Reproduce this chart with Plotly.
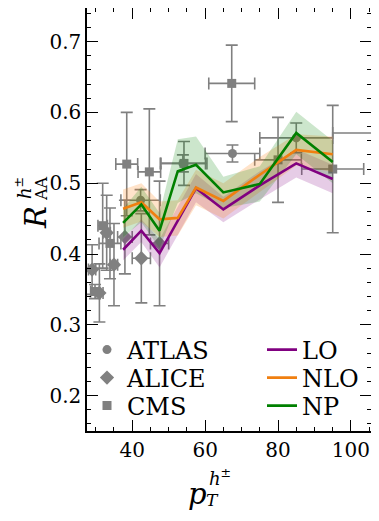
import plotly.graph_objects as go

# ---------------- data ----------------
theory_pt = [37.5, 42.5, 47.5, 52.5, 57.5, 65, 75, 85, 95]
lo = [0.406, 0.433, 0.401, 0.447, 0.493, 0.463, 0.497, 0.528, 0.506]
lo_err = [0.015, 0.016, 0.020, 0.020, 0.020, 0.018, 0.020, 0.020, 0.020]
nlo = [0.464, 0.473, 0.449, 0.451, 0.494, 0.475, 0.512, 0.547, 0.541]
nlo_err = [0.027, 0.027, 0.025, 0.025, 0.025, 0.025, 0.025, 0.022, 0.025]
np_r = [0.444, 0.470, 0.433, 0.517, 0.526, 0.487, 0.499, 0.571, 0.530]
np_err = [0.020, 0.025, 0.025, 0.045, 0.040, 0.022, 0.025, 0.030, 0.030]

atlas_pt = [42.3, 53.9, 67.5, 85.0, 107.5]
atlas_r = [0.476, 0.528, 0.542, 0.564, 0.571]
atlas_dx = [5.4, 6.2, 7.5, 10.0, 12.5]
atlas_dy = [0.015, 0.012, 0.012, 0.021, 0.020]

alice_pt = [29, 31, 33, 35, 38, 42.5, 47.5]
alice_r = [0.378, 0.345, 0.430, 0.385, 0.424, 0.394, 0.415]
alice_dx = [1, 1, 1, 1, 2, 2.5, 2.5]
alice_dy = [0.035, 0.041, 0.053, 0.058, 0.052, 0.063, 0.088]

cms_pt = [29.8, 31.9, 33.9, 38.5, 44.7, 54.2, 67.3, 80.0, 95.0]
cms_r = [0.347, 0.440, 0.415, 0.527, 0.516, 0.528, 0.641, 0.533, 0.520]
cms_dx = [1.2, 1.3, 3.0, 3.0, 3.1, 6.3, 6.3, 6.4, 8.5]
cms_dy = [0.010, 0.060, 0.050, 0.073, 0.089, 0.031, 0.054, 0.060, 0.090]

GRAY = "#808080"
FONT = "DejaVu Serif"

# page offset from the default body margin of the html page
OFF = 8
W, H = 379 - OFF, 521 - OFF
L, R, T, B = 79, 8, 0, 90
pw, ph = W - L - R, H - T - B


def px(xp):
    return (xp - OFF - L) / pw


def py(yp):
    return (H - B - (yp - OFF)) / ph


fig = go.Figure()


def data_trace(name, x, y, dx, dy, symbol, legend):
    return go.Scatter(
        x=x, y=y, mode="markers", name=name, legend=legend,
        marker=dict(symbol=symbol, color=GRAY, size=9 if symbol != "diamond" else 11),
        error_x=dict(type="data", array=dx, color=GRAY, thickness=1.6, width=6),
        error_y=dict(type="data", array=dy, color=GRAY, thickness=1.6, width=6),
    )


fig.add_trace(data_trace("ATLAS", atlas_pt, atlas_r, atlas_dx, atlas_dy, "circle", "legend"))
fig.add_trace(data_trace("ALICE", alice_pt, alice_r, alice_dx, alice_dy, "diamond", "legend2"))
fig.add_trace(data_trace("CMS", cms_pt, cms_r, cms_dx, cms_dy, "square", "legend3"))

theories = [
    ("LO", lo, lo_err, "#800080", "rgba(128,0,128,0.2)", "legend4"),
    ("NLO", nlo, nlo_err, "#f07f10", "rgba(255,127,14,0.22)", "legend5"),
    ("NP", np_r, np_err, "#008000", "rgba(0,128,0,0.2)", "legend6"),
]

for name, y, e, lc, fc, lg in theories:
    upper = [a + b for a, b in zip(y, e)]
    lower = [a - b for a, b in zip(y, e)]
    fig.add_trace(go.Scatter(
        x=theory_pt + theory_pt[::-1], y=upper + lower[::-1],
        fill="toself", fillcolor=fc, line=dict(width=0),
        mode="lines", hoverinfo="skip", showlegend=False))

for name, y, e, lc, fc, lg in theories:
    fig.add_trace(go.Scatter(
        x=theory_pt, y=y, mode="lines", name=name, legend=lg,
        line=dict(color=lc, width=2.6)))

axis_common = dict(
    showline=True, linecolor="black", linewidth=1.5, mirror="allticks",
    ticks="inside", ticklen=11, tickwidth=1.3, tickcolor="black",
    showgrid=False, zeroline=False,
    tickfont=dict(family=FONT, size=20, color="black"),
)

fig.update_xaxes(
    range=[27.6, 105.5], tickvals=[40, 60, 80, 100],
    ticktext=["40", "60", "80", "100"],
    minor=dict(ticks="inside", ticklen=4, tickwidth=1.1, tickcolor="black", dtick=5, tick0=0),
    **axis_common)
fig.update_yaxes(
    range=[0.15, 0.7475], tickvals=[0.2, 0.3, 0.4, 0.5, 0.6, 0.7],
    ticktext=["0.2", "0.3", "0.4", "0.5", "0.6", "0.7"],
    minor=dict(ticks="inside", ticklen=4, tickwidth=1.1, tickcolor="black", dtick=0.02, tick0=0),
    **axis_common)

annotations = [
    # y-axis title
    dict(text="<i>R</i>", x=px(36), y=py(218), font=dict(size=29)),
    dict(text="<i>h</i><sup>±</sup>", x=px(23), y=py(188), font=dict(size=18)),
    dict(text="AA", x=px(42), y=py(189), font=dict(size=16)),
    # x-axis title
    dict(text="<i>p</i>", x=px(197), y=py(494), font=dict(size=29), textangle=0),
    dict(text="<i>T</i>", x=px(212), y=py(500), font=dict(size=17), textangle=0),
    dict(text="<i>h</i><sup>±</sup>", x=px(220), y=py(477), font=dict(size=18), textangle=0),
]
for a in annotations:
    a.setdefault("textangle", -90)
    a["font"].update(family=FONT, color="black")
    a.update(xref="paper", yref="paper", showarrow=False, xanchor="center", yanchor="middle")

LEG_FONT = dict(family=FONT, size=24, color="black")
rows = [350, 378, 406]
legends = {}
for i, yrow in enumerate(rows):
    legends["legend" if i == 0 else f"legend{i + 1}"] = dict(
        x=px(87), y=py(yrow), xanchor="left", yanchor="middle",
        font=LEG_FONT, bgcolor="rgba(0,0,0,0)", itemwidth=30)
    legends[f"legend{i + 4}"] = dict(
        x=px(262), y=py(yrow), xanchor="left", yanchor="middle",
        font=LEG_FONT, bgcolor="rgba(0,0,0,0)", itemwidth=30)

fig.update_layout(
    width=W, height=H,
    margin=dict(l=L, r=R, t=T, b=B, autoexpand=False),
    paper_bgcolor="white", plot_bgcolor="white",
    font=dict(family=FONT, color="black"),
    showlegend=True,
    annotations=annotations,
    **legends,
)

fig.write_html("out.html")
